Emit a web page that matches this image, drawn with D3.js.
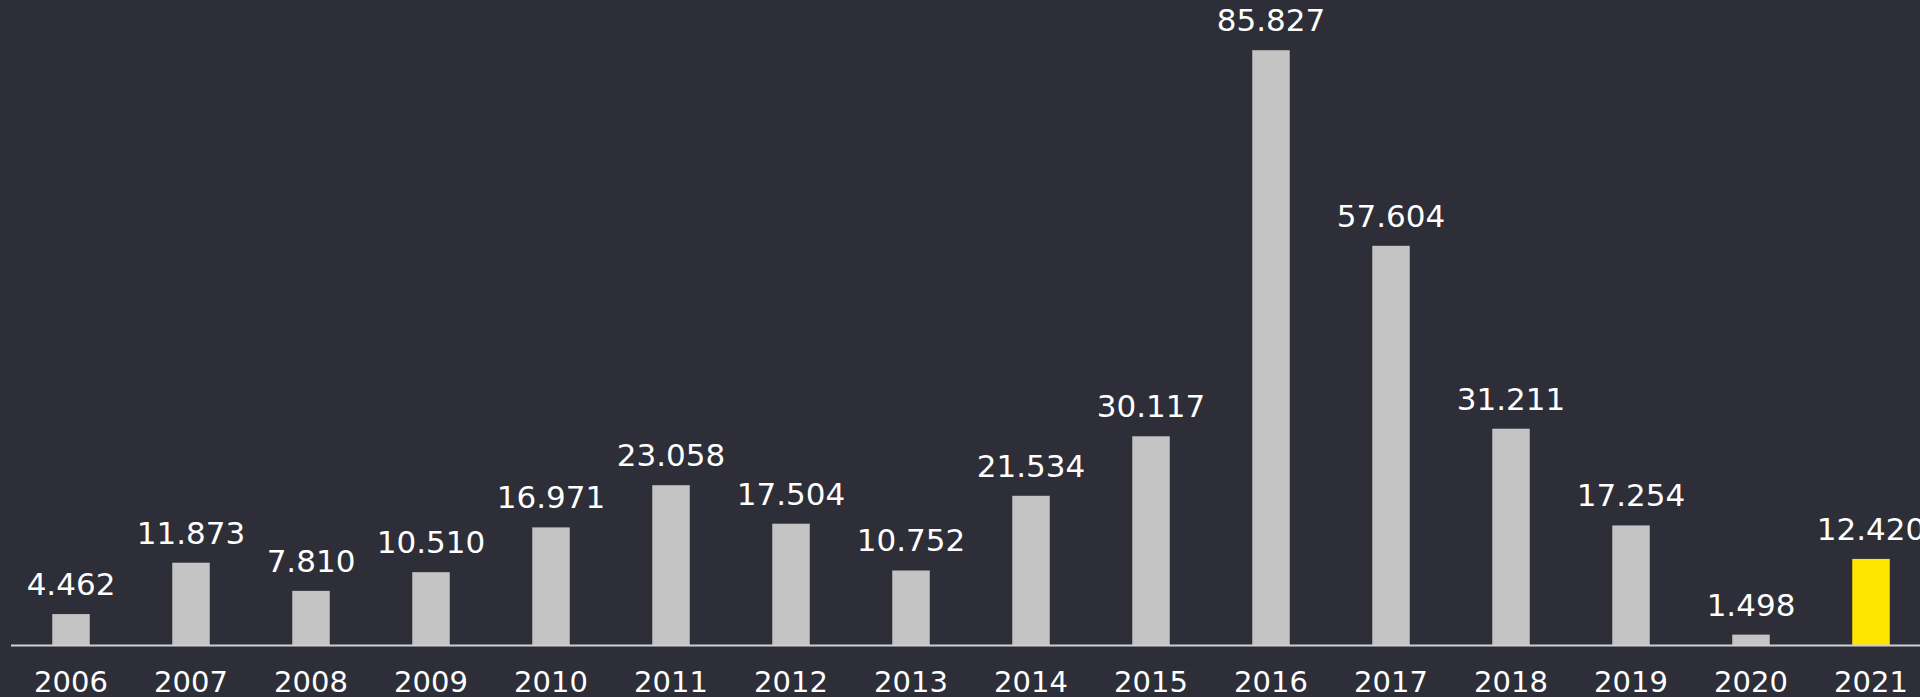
<!DOCTYPE html>
<html>
<head>
<meta charset="utf-8">
<script src="https://cdn.jsdelivr.net/npm/d3@7"></script>
<style>
  html, body { margin: 0; padding: 0; background: #2e2e38; overflow: hidden; }
  svg { display: block; }
</style>
</head>
<body>
<script>
const width = 1920;
const height = 697;

// Data
const years = ["2006", "2007", "2008", "2009", "2010", "2011", "2012", "2013",
               "2014", "2015", "2016", "2017", "2018", "2019", "2020", "2021"];
const values = [4.462, 11.873, 7.810, 10.510, 16.971, 23.058, 17.504, 10.752,
                21.534, 30.117, 85.827, 57.604, 31.211, 17.254, 1.498, 12.420];
const highlightYear = "2021";

const data = years.map((y, i) => ({ year: y, value: values[i] }));

const svg = d3.select("body").append("svg")
    .attr("width", width)
    .attr("height", height);

svg.append("rect")
    .attr("width", width)
    .attr("height", height)
    .attr("fill", "#2e2e38");

const baseY = 645;

const x = d3.scaleBand()
    .domain(years)
    .range([11, 1931])
    .paddingInner(0.6875)
    .paddingOuter(0.34375);

const y = d3.scaleLinear()
    .domain([0, 90])
    .range([baseY, baseY - 90 * 6.93]);

// bars
svg.append("g")
    .selectAll("rect")
    .data(data)
    .enter().append("rect")
    .attr("x", d => x(d.year))
    .attr("y", d => y(d.value))
    .attr("width", x.bandwidth())
    .attr("height", d => y(0) - y(d.value))
    .attr("fill", d => d.year === highlightYear ? "#ffe600" : "#c4c4c4");

// value labels
svg.append("g")
    .selectAll("text")
    .data(data)
    .enter().append("text")
    .attr("x", d => x(d.year) + x.bandwidth() / 2)
    .attr("y", d => y(d.value) - 19)
    .attr("text-anchor", "middle")
    .attr("fill", "#ffffff")
    .style("font-family", "'DejaVu Sans', Verdana, sans-serif")
    .style("font-size", "31px")
    .text(d => d.value.toFixed(3));

// baseline axis
const xAxis = svg.append("g")
    .attr("transform", `translate(0,${baseY + 0.5})`)
    .call(d3.axisBottom(x).tickSize(0));

xAxis.select(".domain")
    .attr("d", `M11,0H${width}`)
    .attr("stroke", "#cfcfd4")
    .attr("stroke-width", 2);

xAxis.selectAll("text")
    .attr("y", 46)
    .attr("dy", null)
    .attr("fill", "#ffffff")
    .style("font-family", "'DejaVu Sans', Verdana, sans-serif")
    .style("font-size", "29px");
</script>
</body>
</html>
